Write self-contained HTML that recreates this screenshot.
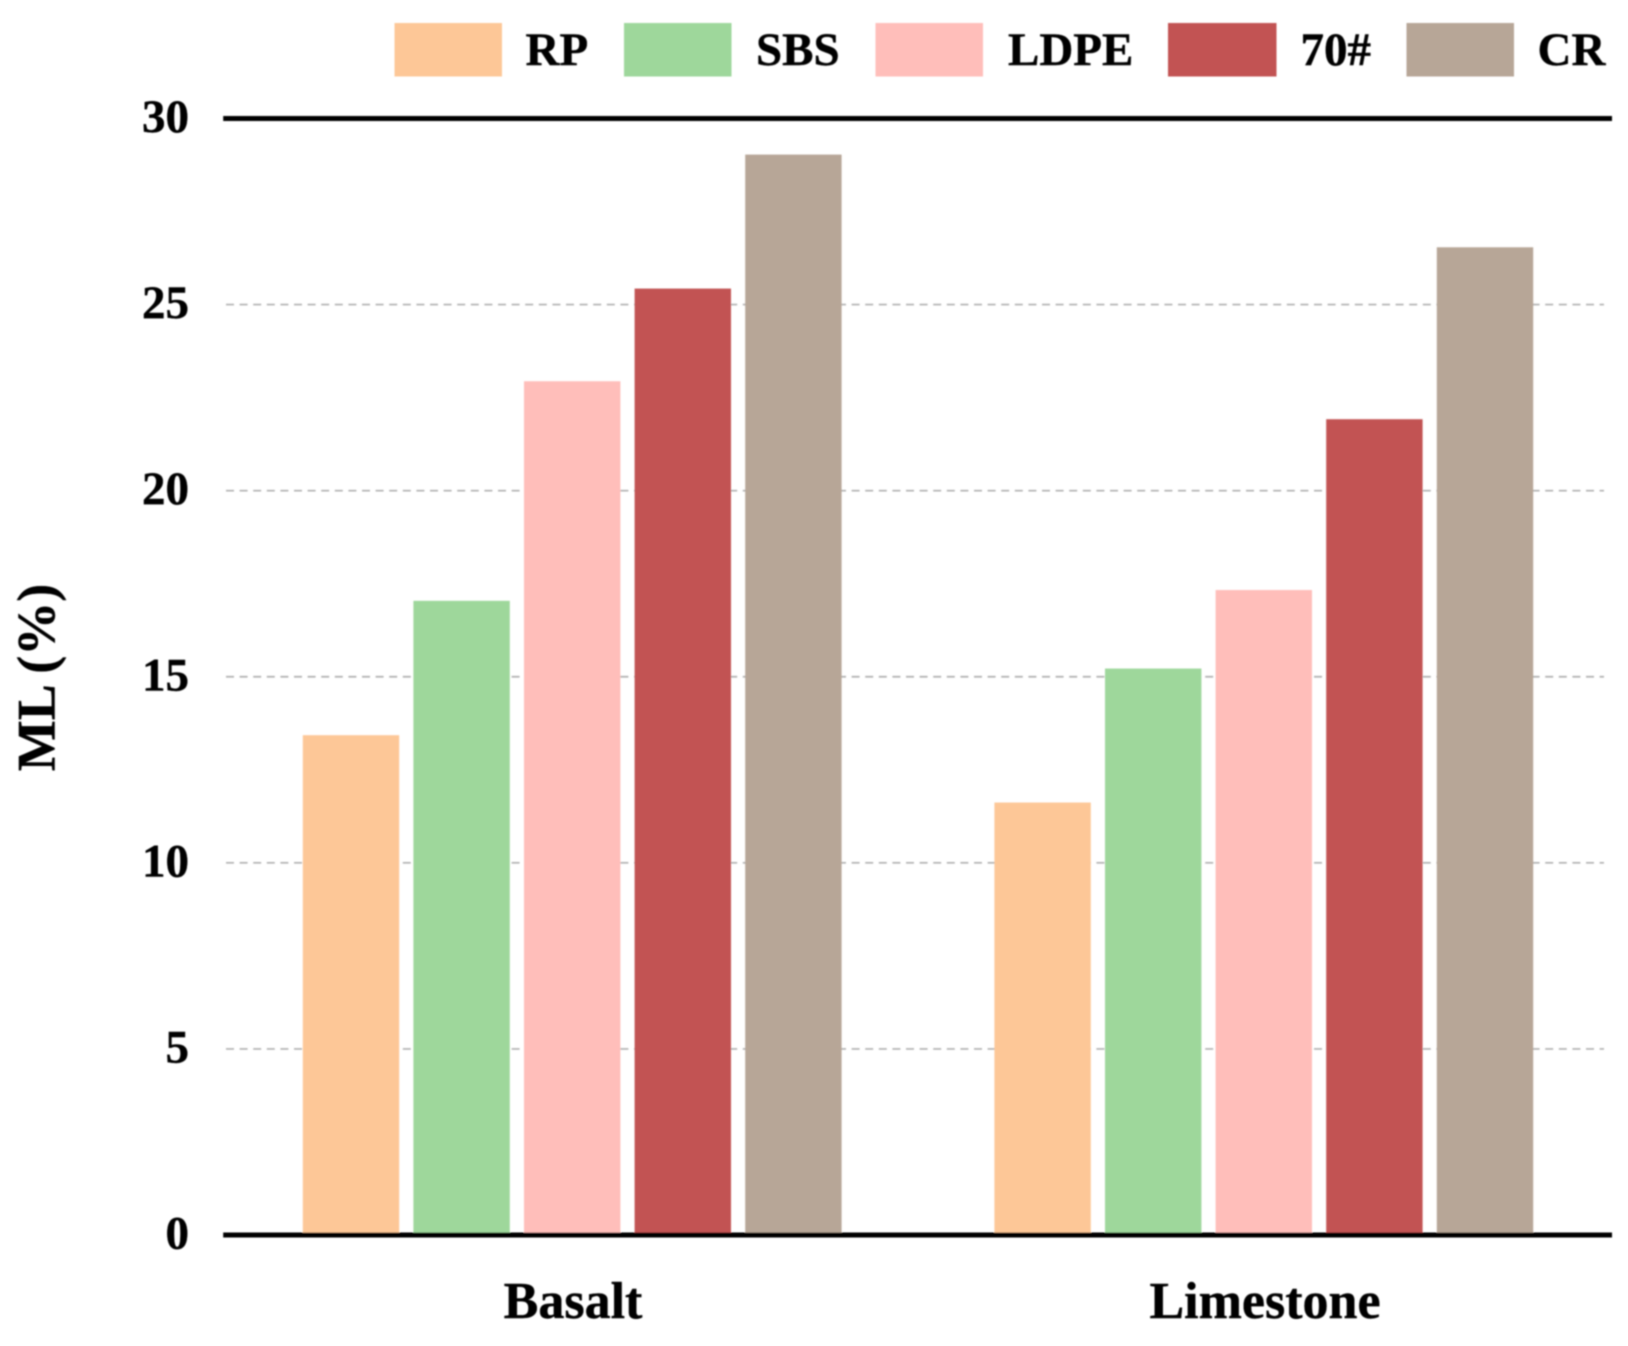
<!DOCTYPE html>
<html lang="en">
<head>
<meta charset="utf-8">
<title>ML (%) bar chart</title>
<style>
html,body{margin:0;padding:0;background:#fff;}
svg{display:block;}
text{font-family:"Liberation Serif",serif;font-weight:bold;fill:#000;stroke:#000;stroke-width:0.4px;}
</style>
</head>
<body>
<svg id="chart" xmlns="http://www.w3.org/2000/svg" width="1628" height="1346" viewBox="0 0 1628 1346">
  <defs><filter id="soft" x="-2%" y="-2%" width="104%" height="104%"><feGaussianBlur stdDeviation="0.7"/></filter></defs>
  <rect x="0" y="0" width="1628" height="1346" fill="#ffffff"/>
  <g id="plot" filter="url(#soft)">
    <g id="grid"></g>
    <g id="bars"></g>
    <g id="axes"></g>
    <g id="yticks"></g>
    <g id="xticks"></g>
    <text transform="translate(54.5,677.5) rotate(-90)" text-anchor="middle" font-size="54">ML (%)</text>
    <g>
      <g>
        <rect x="394.5" y="23" width="107.5" height="53.5" fill="#FDC797"/>
        <text x="525.5" y="65" font-size="47">RP</text>
      </g>
      <g>
        <rect x="624" y="23" width="107.5" height="53.5" fill="#9ED79B"/>
        <text x="756" y="65" font-size="47">SBS</text>
      </g>
      <g>
        <rect x="875.5" y="23" width="107.5" height="53.5" fill="#FFBEBA"/>
        <text x="1008" y="65" font-size="47">LDPE</text>
      </g>
      <g>
        <rect x="1168" y="23" width="108.5" height="53.5" fill="#C25252"/>
        <text x="1300.5" y="65" font-size="47">70#</text>
      </g>
      <g>
        <rect x="1406.5" y="23" width="107.5" height="53.5" fill="#B7A697"/>
        <text x="1537.5" y="65" font-size="47">CR</text>
      </g>
    </g>
  </g>
</svg>
<script>
const categories = ["Basalt", "Limestone"];
const seriesNames = ["RP", "SBS", "LDPE", "70#", "CR"];
const rpValues = [13.43, 11.62];
const sbsValues = [17.04, 15.22];
const ldpeValues = [22.94, 17.33];
const bitumenValues = [25.43, 21.92];
const crValues = [29.03, 26.54];
const yTickLabels = [0, 5, 10, 15, 20, 25, 30];

const allSeries = [rpValues, sbsValues, ldpeValues, bitumenValues, crValues];
const seriesColors = ["#FDC797", "#9ED79B", "#FFBEBA", "#C25252", "#B7A697"];
const NS = "http://www.w3.org/2000/svg";

function yScale(v) { return 1235 - v * (1235 - 118.5) / 30; }
function xBar(groupIndex, seriesIndex) { return 302.8 + groupIndex * 691.6 + seriesIndex * 110.6; }
function xCenter(groupIndex) { return 573 + groupIndex * 692; }
function make(tag, parentId) {
  const el = document.createElementNS(NS, tag);
  document.getElementById(parentId).appendChild(el);
  return el;
}
function slug(s) { return String(s).toLowerCase().replace(/[^a-z0-9]+/g, ""); }

yTickLabels.forEach(function (t) {
  if (t !== 0 && t !== 30) {
    const g = make("line", "grid");
    
    
    g.setAttribute("x1", 226);
    g.setAttribute("x2", 1604);
    g.setAttribute("y1", yScale(t));
    g.setAttribute("y2", yScale(t));
    g.setAttribute("stroke", "#b0b0b0");
    g.setAttribute("stroke-width", 1.7);
    g.setAttribute("stroke-dasharray", "8 5.6");
  }
  const label = make("text", "yticks");
  
  
  label.setAttribute("x", 189);
  label.setAttribute("y", yScale(t) + 13.5);
  label.setAttribute("text-anchor", "end");
  label.setAttribute("font-size", 47);
  label.textContent = t;
});

categories.forEach(function (cat, gi) {
  allSeries.forEach(function (vals, si) {
    const r = make("rect", "bars");
    
    
    r.setAttribute("x", xBar(gi, si));
    r.setAttribute("y", yScale(vals[gi]));
    r.setAttribute("width", 96.4);
    r.setAttribute("height", yScale(0) - yScale(vals[gi]));
    r.setAttribute("fill", seriesColors[si]);
  });
  const lab = make("text", "xticks");
  
  
  lab.setAttribute("x", xCenter(gi));
  lab.setAttribute("y", 1318);
  lab.setAttribute("text-anchor", "middle");
  lab.setAttribute("font-size", 52);
  lab.textContent = cat;
});

[0, 30].forEach(function (v) {
  const l = make("line", "axes");
  
  
  l.setAttribute("x1", 223.2);
  l.setAttribute("x2", 1612);
  l.setAttribute("y1", yScale(v));
  l.setAttribute("y2", yScale(v));
  l.setAttribute("stroke", "#000");
  l.setAttribute("stroke-width", 5);
});
</script>
</body>
</html>
